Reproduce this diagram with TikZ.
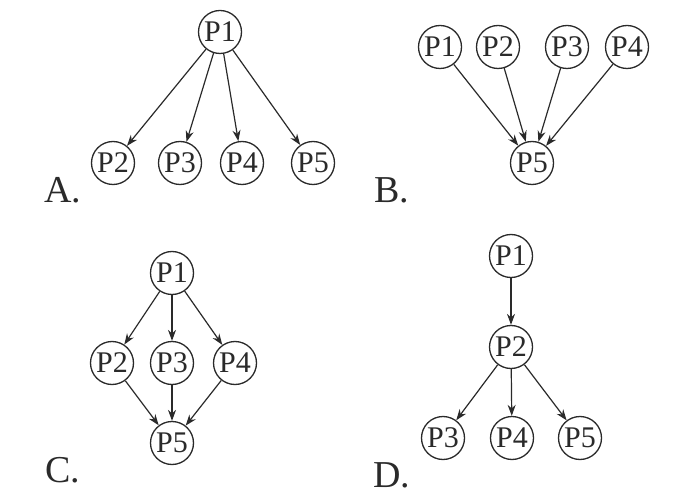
\documentclass[tikz,border=0pt]{standalone}
\usepackage{fontspec}
\setmainfont{Liberation Serif}
\usetikzlibrary{arrows.meta}
\definecolor{ink}{HTML}{2A2A2A}
\begin{document}
\begin{tikzpicture}[x=1pt,y=-1pt,
  pnode/.style={circle,draw=ink,line width=1.3pt,minimum size=43pt,inner sep=0pt,text=ink,font=\fontsize{30}{30}\selectfont},
  lbl/.style={text=ink,font=\fontsize{38}{38}\selectfont,inner sep=0pt},
  arr/.style={draw=ink,line width=1.2pt,-{Stealth[length=11pt,width=8pt]}}]
\useasboundingbox[fill=white] (0,0) rectangle (690,502);
% A
\node[pnode] (a1) at (220,32) {P1};
\node[pnode] (a2) at (113,163) {P2};
\node[pnode] (a3) at (180,163) {P3};
\node[pnode] (a4) at (242,163) {P4};
\node[pnode] (a5) at (313,163) {P5};
\node[lbl] (la) at (63,190) {A.};
\foreach \t in {a2,a3,a4,a5} \draw[arr] (a1) -- (\t);
% B
\node[pnode] (b1) at (440,47) {P1};
\node[pnode] (b2) at (498,47) {P2};
\node[pnode] (b3) at (567,47) {P3};
\node[pnode] (b4) at (627,47) {P4};
\node[pnode] (b5) at (532,163) {P5};
\node[lbl] (lb) at (392,190) {B.};
\foreach \s in {b1,b2,b3,b4} \draw[arr] (\s) -- (b5);
% C
\node[pnode] (c1) at (172,273) {P1};
\node[pnode] (c2) at (112,363) {P2};
\node[pnode] (c3) at (172,363) {P3};
\node[pnode] (c4) at (235,363) {P4};
\node[pnode] (c5) at (172,443) {P5};
\node[lbl] (lc) at (63,470) {C.};
\foreach \t in {c2,c3,c4} {\draw[arr] (c1) -- (\t); \draw[arr] (\t) -- (c5);}
% D
\node[pnode] (d1) at (511,256) {P1};
\node[pnode] (d2) at (511,347) {P2};
\node[pnode] (d3) at (443,438) {P3};
\node[pnode] (d4) at (512,438) {P4};
\node[pnode] (d5) at (580,438) {P5};
\node[lbl] (ld) at (392,475) {D.};
\draw[arr] (d1) -- (d2);
\foreach \t in {d3,d4,d5} \draw[arr] (d2) -- (\t);
\end{tikzpicture}
\end{document}
